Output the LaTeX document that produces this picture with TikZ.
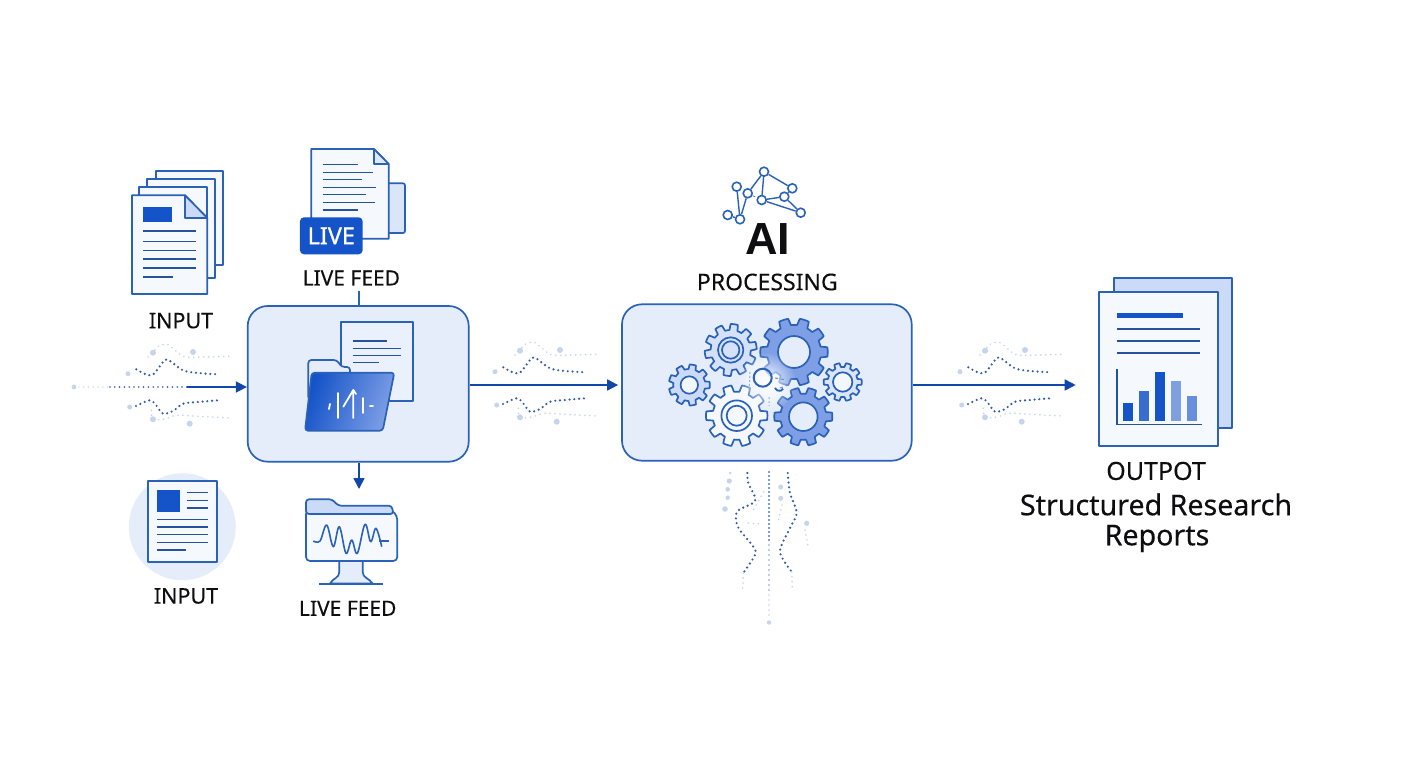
\documentclass[tikz,border=0pt]{standalone}
\usepackage{fontspec}
\setmainfont{Noto Sans}
\newfontfamily\medf[FakeBold=0.35]{Noto Sans}
\newfontfamily\badgef[FakeBold=0.8]{Noto Sans}
\newfontfamily\labf[FakeBold=0.15]{Noto Sans}
\newfontfamily\aif{Liberation Sans}
\usetikzlibrary{arrows.meta,fadings,shadings}
\tikzfading[name=centerfade,inner color=transparent!0,outer color=transparent!100]
\definecolor{edge}{HTML}{2A62B8}
\definecolor{solidblue}{HTML}{1553C8}
\definecolor{boxfill}{HTML}{E5EDFB}
\definecolor{paper}{HTML}{F5F8FD}
\definecolor{lite}{HTML}{CBDAF6}
\definecolor{gearmid}{HTML}{7E9FE6}
\definecolor{dotdark}{HTML}{2F5BA8}
\definecolor{dotfaint}{HTML}{C6D4EC}
\definecolor{ink}{HTML}{0E0E10}
\tikzset{
  x=1pt,y=-1pt,
  declare function={gr(\t,\n,\a,\b)=\a+(\b-\a)*max(0,min(1,0.7+1.7*cos(\n*\t)));},
  ol/.style={draw=edge,line width=1.7pt,line join=round},
  docln/.style={draw=edge!85!black,line width=1.5pt},
  flowbox/.style={draw=edge,line width=1.7pt,fill=boxfill,rounded corners=20pt,inner sep=0pt,minimum width=#1},
  lbl/.style={text=ink,inner sep=0pt,font=\labf\fontsize{#1}{24}\selectfont},
  lbl/.default=21,
  flowarrow/.style={draw=solidblue!85!black,line width=1.7pt,-{Triangle[length=11pt,width=11pt]}},
  darkdots/.style={draw=dotdark,line width=2.4pt,line cap=round,dash pattern=on 0pt off 4.8pt},
  faintdots/.style={draw=dotfaint,line width=1.8pt,line cap=round,dash pattern=on 0pt off 5pt},
  faintspot/.style={fill=dotfaint,draw=none},
  netnode/.style={circle,draw=edge,line width=1.6pt,fill=white,minimum size=9pt,inner sep=0pt},
  netedge/.style={draw=edge,line width=1.4pt},
}
\newcommand{\gearshape}[7]{% cx cy rout rin teeth fill rot
  \draw[ol,fill=#6] plot[domain=0:360,samples=361] ({#1+gr(\x+#7,#5,#4,#3)*cos(\x)},{#2+gr(\x+#7,#5,#4,#3)*sin(\x)}) -- cycle;
}
\newcommand{\flowstreams}[2]{%
  \begin{scope}[shift={(#1,#2)}]
    \draw[faintdots] plot[smooth] coordinates {(45,-30)(50,-35)(56.7,-41.7)(65,-42.3)(73,-36)(81.7,-30)(100,-30)(126.7,-30.7)};
    \fill[faintspot] (50,-34.3) circle (3pt) (90,-35) circle (3pt) (25,-13.3) circle (2.5pt);
    \draw[darkdots] plot[smooth] coordinates {(33.3,-17.7)(42,-13)(50,-12.3)(60,-25)(65,-27.3)(80,-16.7)(95,-14)(115,-12.7)};
    \draw[darkdots] plot[smooth] coordinates {(33,19)(46.7,13.3)(53,18)(60,26.7)(70,24)(80,16.7)(95,15)(115,13.3)};
    \draw[faintdots] plot[smooth] coordinates {(48.3,23.3)(50,32.3)(62,32)(73.3,28.3)(90,29)(126.7,31)};
    \fill[faintspot] (26.7,20) circle (2.5pt) (50,32.3) circle (3pt) (86.7,36.7) circle (3pt);
  \end{scope}
}
\begin{document}
\begin{tikzpicture}
\useasboundingbox (0,0) rectangle (1408,768);
\fill[white] (0,0) rectangle (1408,768);

% ---------- stacked input documents
\draw[ol,fill=paper] (155.7,171) rectangle (222.7,265);
\draw[ol,fill=paper] (147.3,179) rectangle (215.3,278.3);
\draw[ol,fill=paper] (139.3,187.3) rectangle (207.3,286);
\draw[ol,fill=paper] (132,195.3) -- (185,195.3) -- (207.3,218) -- (207.3,294) -- (132,294) -- cycle;
\draw[ol,fill=lite] (185,195.3) -- (207.3,218) -- (185,218) -- cycle;
\fill[solidblue] (143.3,206.7) rectangle (171.7,222.3);
\foreach \yy/\xe in {231/195.7,241.3/195.7,250.3/195.7,259/195.7,268/195.7,277/172.7}
  \draw[docln] (143.3,\yy) -- (\xe,\yy);
\node[lbl=21.5] (inputA) at (181,320.7) {INPUT};

% ---------- live document
\draw[ol,fill=lite!70!white,rounded corners=2pt] (385,183.3) -- (405,183.3) -- (405,233) -- (385,233);
\draw[ol,fill=paper] (311.3,149) -- (374,149) -- (388.7,164) -- (388.7,238.7) -- (311.3,238.7) -- cycle;
\draw[ol,fill=lite!60!white] (374,149) -- (388.7,164) -- (374,164) -- cycle;
\foreach \yy/\xe in {164.7/358.3,172.3/373.3,179.7/361.7,187.3/376,194.7/365.7,202.3/375.3,210/357.7}
  \draw[docln] (322.7,\yy) -- (\xe,\yy);
\node[fill=solidblue,rounded corners=4pt,minimum width=62.7pt,minimum height=37pt,inner sep=0pt,text=white,font=\badgef\fontsize{23.5}{26}\selectfont] (livebadge) at (331.3,235.8) {LIVE};
\node[lbl] (liveA) at (351.3,278) {LIVE FEED};

% ---------- box 1
\node[flowbox=221pt,minimum height=155.7pt] (boxA) at (358.2,383.85) {};
\draw[ol,fill=boxfill!60!paper] (341.3,322.3) rectangle (412.7,401);
\foreach \yy/\xe in {341/386.7,348.3/401,355.7/401,362.7/379}
  \draw[docln] (352.7,\yy) -- (\xe,\yy);
\draw[ol,fill=boxfill,rounded corners=3pt] (308.3,400) -- (308.3,360) -- (336.7,360) -- (341.7,367) -- (350,367) -- (350,400) -- cycle;
\draw[ol,rounded corners=3pt,left color=solidblue,right color=gearmid,shading angle=70] (311.7,372.7) -- (394.3,372.7) -- (382.7,430.7) -- (305,430.7) -- cycle;
\begin{scope}[draw=white,line width=1.8pt,line cap=round,line join=round]
  \draw (330,404) -- (329,409);
  \draw (338.3,393) -- (338.3,418);
  \draw (343.3,406.7) -- (353.3,390) -- (353.3,418);
  \draw (353.3,390) -- (356,394);
  \draw (362.7,398) -- (362.7,413);
  \draw (370,406) -- (373,406);
\end{scope}

% ---------- lower input
\fill[boxfill] (182.3,526.7) circle (53.5pt);
\draw[ol,fill=paper] (148.3,481.3) rectangle (217,562.3);
\fill[solidblue] (157.3,490) rectangle (180,512);
\foreach \yy in {492.7,500.3,508}
  \draw[docln] (186.7,\yy) -- (208.3,\yy);
\foreach \yy/\xe in {519.3/207.7,527/207.7,534.7/207.7,542.3/207.7,550/186}
  \draw[docln] (157.3,\yy) -- (\xe,\yy);
\node[lbl=21.5] (inputB) at (186,596) {INPUT};

% ---------- monitor
\draw[ol,fill=boxfill] (339.3,560) -- (339.3,572) .. controls (339.3,578) and (333,578) .. (330,583.5) -- (372.7,583.5) .. controls (369,578) and (362.7,578) .. (362.7,572) -- (362.7,560) -- cycle;
\draw[draw=edge,line width=1.7pt] (319.3,583.7) -- (382.7,583.7);
\draw[ol,fill=paper,rounded corners=4pt] (306,510) -- (391.7,510) -- (397.3,516) -- (397.3,561) -- (306,561) -- cycle;
\draw[ol,fill=lite,rounded corners=3pt] (306,514) -- (306,499.3) -- (332,499.3) -- (338.3,505.7) -- (391.7,505.7) -- (393.5,514) -- cycle;
\draw[draw=edge,line width=1.6pt,line join=round] plot[smooth,tension=.6] coordinates {(313.3,541)(320,541)(326.7,525)(333.3,546.7)(339.3,526.7)(346,553.3)(351.7,540)(357.3,553.3)(365,524.3)(370.7,541.7)(376,528.3)(381.7,546.7)};
\draw[draw=edge,line width=1.6pt] (379,541) -- (389,541);
\node[lbl] (liveB) at (347.7,608.3) {LIVE FEED};

% ---------- box 2
\node[flowbox=289.7pt,minimum height=156.4pt] (boxB) at (766.85,382.5) {};
\gearshape{736.7}{415.7}{30.7}{24}{10}{boxfill!40!white}{0}
\draw[ol] (736.7,415.7) circle (15.3pt) circle (10pt);
\gearshape{730.7}{350}{26}{20}{10}{lite!80!white}{10}
\draw[ol] (730.7,350) circle (12.7pt) circle (8.7pt);
\gearshape{689.3}{385}{20.5}{16}{9}{lite}{0}
\draw[ol,fill=boxfill!50!white] (689.3,385) circle (8.7pt);
\gearshape{842.7}{382}{19}{15}{10}{lite!70!white}{0}
\draw[ol,fill=boxfill!50!white] (842.7,382) circle (9.7pt);
\gearshape{794}{352}{33.7}{27}{10}{gearmid}{0}
\draw[ol,fill=boxfill] (794,352) circle (16pt);
\gearshape{803.3}{416.7}{29}{23}{10}{gearmid}{0}
\draw[ol,fill=boxfill] (803.3,416.7) circle (14.3pt);
\fill[white,path fading=centerfade] (766,382) circle (30pt);
\draw[draw=edge,line width=2pt] (762.7,377.7) circle (9pt);
\draw[draw=edge,line width=1.8pt] (775,388) arc (200:330:4.5pt);
\draw[draw=edge!70!white,line width=1pt,dashed] (775,378) -- (787,380) (780,388) -- (788,385);
\draw[draw=edge!50!white,line width=1pt,dash pattern=on 2pt off 2pt] (750,372) -- (749,392) (769,397) -- (769,406);

% ---------- AI network
\node[netnode] (nA) at (764,171.7) {};
\node[netnode] (nB) at (736.7,186.7) {};
\node[netnode] (nC) at (747.7,193.3) {};
\node[netnode] (nD) at (761.7,200) {};
\node[netnode] (nE) at (792.3,188.3) {};
\node[netnode] (nF) at (784.3,196.7) {};
\node[netnode] (nG) at (800.7,212.7) {};
\node[netnode] (nH) at (740,219.3) {};
\node[netnode] (nI) at (727.7,215) {};
\draw[netedge] (nA) -- (nC);
\draw[netedge] (nA) -- (nD);
\draw[netedge] (nA) -- (nE);
\draw[netedge] (nB) -- (nH);
\draw[netedge] (nC) -- (nH);
\draw[netedge] (nH) -- (nI);
\draw[netedge] (nD) -- (nF);
\draw[netedge] (nF) -- (nE);
\draw[netedge] (nD) -- (nG);
\draw[netedge] (nF) -- (nG);
\draw[netedge,dashed,line width=.7pt] (nC) -- (nD);
\node[text=ink,inner sep=0pt,font=\aif\bfseries\fontsize{45}{48}\selectfont] (aiLabel) at (767.5,239.3) {AI};
\node[lbl=23] (procLabel) at (767.3,282) {PROCESSING};

% ---------- output
\draw[ol,fill=lite] (1114,278.3) rectangle (1231.7,427.7);
\draw[ol,fill=paper] (1098.7,292) rectangle (1218,445.7);
\fill[solidblue] (1117,313.3) rectangle (1183.3,318);
\foreach \yy in {329,341,353}
  \draw[docln] (1117,\yy) -- (1200.3,\yy);
\draw[docln] (1117,369) -- (1117,424.3) -- (1201.7,424.3);
\foreach \xa/\xb/\yt/\cc in {1122.7/1132.7/403.3/100,1139/1148.7/390.7/85,1155/1164.7/371.7/100,1171/1180.7/381/55,1187/1196.7/395.7/65}
  \fill[solidblue!\cc!white] (\xa,\yt) rectangle (\xb,420.7);
\node[lbl=25] (outA) at (1156,471) {OUTPOT};
\node[text=ink,inner sep=0pt,font=\medf\fontsize{28.6}{32}\selectfont] (outB) at (1156,504.5) {Structured Research};
\node[text=ink,inner sep=0pt,font=\medf\fontsize{28.6}{32}\selectfont] (outC) at (1157,538.5) {Reports};

% ---------- dotted streams
\flowstreams{103}{387}
\flowstreams{470}{385}
\flowstreams{935}{385}

% ---------- lower stream
\draw[darkdots,draw opacity=.8,dash pattern=on 0pt off 4pt] (769,472) -- (769,540);
\draw[faintdots,draw=dotdark!60!white,dash pattern=on 0pt off 5pt] (769,540) -- (769,590);
\draw[faintdots] (769,590) -- (769,618);
\fill[faintspot] (769,622.5) circle (2.2pt);
\draw[darkdots] plot[smooth] coordinates {(747.3,473)(748.3,483)(755,497)(753,503)(737,511.7)(738,527)(753.3,546.7)(755,555)(743.3,573)};
\draw[faintdots] plot[smooth] coordinates {(743.3,573)(742.7,588)};
\draw[darkdots] plot[smooth] coordinates {(787.7,473)(790,493)(796.7,513)(790,528)(780,551.7)(791.7,571.7)};
\draw[faintdots] plot[smooth] coordinates {(791.7,571.7)(792.3,588)};
\fill[faintspot] (730,473) circle (1.5pt) (729.3,481) circle (2.6pt) (727.7,489.3) circle (2.3pt) (727.7,497.7) circle (2.2pt) (725,509) circle (2.8pt)
  (780.7,487) circle (2.5pt) (780.7,498.3) circle (2.5pt) (806.7,523.3) circle (2.6pt);
\draw[faintdots] (805,530) -- (808.3,548);
\draw[faintdots] (748.3,523) -- (762,524);
\draw[faintdots] (763.7,492) -- (753.3,510);
\draw[faintdots] (782,505) -- (778,522);

% ---------- connectors
\coordinate (stubx) at (359,0);
\coordinate (stubend) at (359,290.7);
\coordinate (downend) at (359,489);
\coordinate (flowL) at (0,387);
\coordinate (flowM) at (0,385);
\coordinate (feedstart) at (74,387);
\coordinate (feedsolid) at (187,387);
\coordinate (outtip) at (1075.7,385);
\draw[darkdots,draw=dotfaint,line width=1.5pt] (feedstart) -- (110,387);
\fill[faintspot] (feedstart) circle (2.4pt);
\draw[darkdots,line width=1.8pt] (110,387) -- (feedsolid);
\draw[flowarrow] (feedsolid) -- (boxA.west |- flowL);
\draw[netedge,line width=1.5pt] (stubend) -- (boxA.north -| stubx);
\draw[flowarrow] (boxA.south -| stubx) -- (downend);
\draw[flowarrow,shorten >=3pt] (boxA.east |- flowM) -- (boxB.west |- flowM);
\draw[flowarrow] (boxB.east |- flowM) -- (outtip);
\end{tikzpicture}
\end{document}
